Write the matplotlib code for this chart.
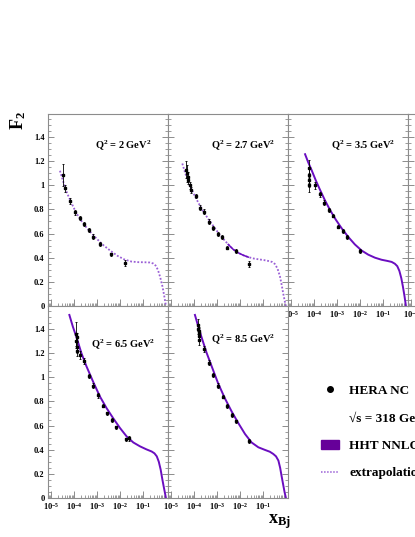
import matplotlib
matplotlib.use('Agg')
import matplotlib.pyplot as plt
from matplotlib.ticker import FixedLocator, MultipleLocator, NullFormatter, FormatStrFormatter, LogFormatterMathtext
from matplotlib.lines import Line2D
from matplotlib.patches import Patch

plt.rcParams['font.family'] = ['Liberation Serif', 'DejaVu Serif']
plt.rcParams['font.weight'] = 'bold'
plt.rcParams['mathtext.fontset'] = 'custom'
plt.rcParams['mathtext.rm'] = 'Liberation Serif:bold'
plt.rcParams['mathtext.it'] = 'Liberation Serif:bold'
plt.rcParams['mathtext.bf'] = 'Liberation Serif:bold'

# Q^2 bins
q2_labels = ['2', '2.7', '3.5', '6.5', '8.5']

# HERA NC data, one list per bin
data_x_1 = [3.4e-5, 4.1e-5, 6.9e-5, 1.15e-4, 1.8e-4, 2.8e-4, 4.4e-4, 6.9e-4, 1.35e-3, 4.1e-3, 1.66e-2]
data_f2_1 = [1.085, 0.975, 0.87, 0.776, 0.729, 0.679, 0.63, 0.574, 0.511, 0.428, 0.359]
data_err_1 = [0.09, 0.03, 0.025, 0.02, 0.02, 0.02, 0.02, 0.02, 0.015, 0.015, 0.025]

data_x_2 = [4.4e-5, 5.0e-5, 5.4e-5, 5.6e-5, 6.8e-5, 7.2e-5, 1.17e-4, 1.8e-4, 2.7e-4, 4.5e-4,
            6.9e-4, 1.07e-3, 1.7e-3, 2.7e-3, 6.8e-3, 2.5e-2]
data_f2_2 = [1.127, 1.10, 1.07, 1.044, 1.0, 0.961, 0.911, 0.815, 0.782, 0.699,
             0.644, 0.594, 0.569, 0.483, 0.456, 0.345]
data_err_2 = [0.07, 0.07, 0.04, 0.03, 0.03, 0.025, 0.02, 0.02, 0.02, 0.02,
              0.015, 0.015, 0.015, 0.015, 0.015, 0.025]

data_x_3 = [5.9e-5, 6.0e-5, 6.2e-5, 6.3e-5, 1.1e-4, 1.8e-4, 2.8e-4, 4.5e-4, 6.9e-4, 1.1e-3,
            1.78e-3, 2.7e-3, 1.02e-2]
data_f2_3 = [1.14, 1.085, 1.044, 1.0, 1.0, 0.925, 0.856, 0.795, 0.748, 0.657,
             0.621, 0.569, 0.458]
data_err_3 = [0.07, 0.07, 0.06, 0.06, 0.03, 0.02, 0.02, 0.02, 0.015, 0.015,
              0.015, 0.015, 0.015]

data_x_4 = [1.2e-4, 1.26e-4, 1.32e-4, 1.35e-4, 1.41e-4, 1.8e-4, 2.7e-4, 4.4e-4, 6.9e-4, 1.1e-3,
            1.78e-3, 2.7e-3, 4.4e-3, 6.8e-3, 1.8e-2, 2.6e-2]
data_f2_4 = [1.36, 1.30, 1.25, 1.33, 1.22, 1.185, 1.135, 1.01, 0.93, 0.85,
             0.765, 0.70, 0.645, 0.585, 0.485, 0.495]
data_err_4 = [0.1, 0.06, 0.05, 0.04, 0.04, 0.03, 0.025, 0.02, 0.02, 0.02,
              0.015, 0.015, 0.015, 0.015, 0.015, 0.02]

data_x_5 = [1.51e-4, 1.55e-4, 1.58e-4, 1.62e-4, 1.66e-4, 1.7e-4, 2.8e-4, 4.5e-4, 6.9e-4, 1.07e-3,
            1.78e-3, 2.7e-3, 4.4e-3, 6.8e-3, 2.5e-2]
data_f2_5 = [1.43, 1.40, 1.37, 1.34, 1.31, 1.38, 1.232, 1.121, 1.019, 0.93,
             0.839, 0.762, 0.685, 0.635, 0.47]
data_err_5 = [0.05, 0.04, 0.04, 0.04, 0.04, 0.04, 0.025, 0.02, 0.02, 0.02,
              0.015, 0.015, 0.015, 0.015, 0.015]

# HHT NNLO predictions
curve_x_1 = [2.45e-5, 3.55e-5, 5.0e-5, 7.9e-5, 1.26e-4, 2.0e-4, 3.16e-4, 5.0e-4, 1.0e-3, 2.0e-3,
             4.0e-3, 7.9e-3, 1.58e-2, 3.16e-2, 6.3e-2, 0.126, 0.20, 0.28, 0.355, 0.447,
             0.56, 0.71, 0.85, 1.0]
curve_f2_1 = [1.12, 1.02, 0.935, 0.85, 0.77, 0.71, 0.66, 0.615, 0.555, 0.50,
              0.455, 0.415, 0.385, 0.368, 0.363, 0.362, 0.36, 0.352, 0.335, 0.30,
              0.24, 0.16, 0.08, 0.0]

curve_x_2 = [3.1e-5, 4.5e-5, 6.8e-5, 1.0e-4, 1.55e-4, 2.5e-4, 4.2e-4, 7.1e-4, 1.15e-3, 2.0e-3,
             3.1e-3, 5.0e-3, 8.5e-3, 1.41e-2, 2.3e-2, 4.0e-2, 6.3e-2, 0.112, 0.17, 0.25,
             0.33, 0.43, 0.55, 0.66, 0.76, 0.89, 1.0]
curve_f2_2 = [1.18, 1.08, 0.99, 0.925, 0.855, 0.785, 0.72, 0.66, 0.605, 0.55,
              0.51, 0.47, 0.44, 0.42, 0.405, 0.393, 0.387, 0.38, 0.373, 0.365,
              0.348, 0.31, 0.245, 0.17, 0.105, 0.04, 0.0]
solid_x_2 = [3.1e-3, 5.0e-3, 8.5e-3, 1.41e-2, 2.3e-2]
solid_f2_2 = [0.51, 0.47, 0.44, 0.42, 0.405]

curve_x_3 = [4.1e-5, 5.6e-5, 7.9e-5, 1.2e-4, 1.8e-4, 3.0e-4, 5.0e-4, 8.9e-4, 1.58e-3, 3.16e-3,
             6.0e-3, 1.17e-2, 2.3e-2, 4.5e-2, 8.7e-2, 0.158, 0.24, 0.33, 0.42, 0.52,
             0.63, 0.74, 0.87, 1.0]
curve_f2_3 = [1.257, 1.19, 1.125, 1.04, 0.965, 0.875, 0.795, 0.715, 0.645, 0.57,
              0.51, 0.46, 0.425, 0.40, 0.383, 0.373, 0.365, 0.35, 0.33, 0.29,
              0.23, 0.16, 0.08, 0.0]

curve_x_4 = [6.3e-5, 8.9e-5, 1.32e-4, 2.1e-4, 3.5e-4, 7.1e-4, 1.35e-3, 2.6e-3, 5.1e-3, 1.0e-2,
             1.95e-2, 3.8e-2, 7.4e-2, 0.141, 0.24, 0.316, 0.40, 0.49, 0.59, 0.69,
             0.79, 0.89, 1.0]
curve_f2_4 = [1.516, 1.42, 1.325, 1.20, 1.09, 0.955, 0.84, 0.745, 0.66, 0.58,
              0.51, 0.46, 0.428, 0.403, 0.385, 0.37, 0.345, 0.30, 0.235, 0.16,
              0.10, 0.05, 0.0]

curve_x_5 = [1.1e-4, 1.51e-4, 2.1e-4, 3.5e-4, 5.9e-4, 1.12e-3, 2.2e-3, 4.4e-3, 8.5e-3, 1.66e-2,
             3.2e-2, 6.3e-2, 0.123, 0.20, 0.28, 0.37, 0.47, 0.56, 0.65, 0.76,
             0.87, 1.0]
curve_f2_5 = [1.516, 1.425, 1.336, 1.205, 1.09, 0.95, 0.826, 0.715, 0.62, 0.53,
              0.46, 0.42, 0.398, 0.383, 0.365, 0.345, 0.31, 0.25, 0.18, 0.11,
              0.05, 0.0]

W, H = 415, 537
SOLID = '#6a0dc0'
DOTTED = '#9a5fd6'
FRAME = '#8c8c8c'


def add_panel(fig, left, top, w=120, h=192):
    ax = fig.add_axes([left / W, 1 - (top + h) / H, w / W, h / H])
    ax.set_xscale('log')
    ax.set_xlim(10 ** -5.13, 10 ** 0.09)
    ax.set_ylim(0, 1.59)
    for s in ax.spines.values():
        s.set_color(FRAME)
        s.set_linewidth(0.8)
    ax.xaxis.set_major_locator(FixedLocator([1e-5, 1e-4, 1e-3, 1e-2, 1e-1]))
    ax.xaxis.set_minor_locator(FixedLocator([m * 10.0 ** e for e in range(-6, 1) for m in range(2, 10)]))
    ax.xaxis.set_major_formatter(LogFormatterMathtext())
    ax.xaxis.set_minor_formatter(NullFormatter())
    ax.yaxis.set_major_locator(MultipleLocator(0.2))
    ax.yaxis.set_minor_locator(MultipleLocator(0.05))
    ax.yaxis.set_major_formatter(FormatStrFormatter('%g'))
    ax.tick_params(which='both', direction='in', color=FRAME, left=True, right=True,
                   bottom=True, top=False, labelsize=6, pad=2.5)
    ax.tick_params(which='major', length=4, width=0.7)
    ax.tick_params(which='minor', length=2, width=0.6)
    ax.tick_params(axis='x', which='major', length=5)
    return ax


fig = plt.figure(figsize=(W / 100, H / 100), dpi=100)

lefts = [48, 168, 288]
panels = [
    (lefts[0], 114, data_x_1, data_f2_1, data_err_1, curve_x_1, curve_f2_1),
    (lefts[1], 114, data_x_2, data_f2_2, data_err_2, curve_x_2, curve_f2_2),
    (lefts[2], 114, data_x_3, data_f2_3, data_err_3, curve_x_3, curve_f2_3),
    (lefts[0], 306, data_x_4, data_f2_4, data_err_4, curve_x_4, curve_f2_4),
    (lefts[1], 306, data_x_5, data_f2_5, data_err_5, curve_x_5, curve_f2_5),
]
show_xlabels = [False, False, True, True, True]
show_ylabels = [True, False, False, True, False]
q2_ypos = [0.84, 0.84, 0.84, 0.80, 0.83]

for i, (l, t, dx, dy, de, cx, cy) in enumerate(panels):
    ax = add_panel(fig, l, t)
    if i < 2:
        ax.plot(cx, cy, color=DOTTED, lw=1.3, ls=(0, (1, 1)))
        if i == 1:
            ax.plot(solid_x_2, solid_f2_2, color=SOLID, lw=1.1)
    else:
        ax.plot(cx, cy, color=SOLID, lw=1.4)
    ax.errorbar(dx, dy, yerr=de, fmt='s', color='black', ms=1.6, elinewidth=0.6,
                capsize=1.0, capthick=0.6)
    ax.text(0.63, q2_ypos[i], 'Q$^2$ = %s GeV$^2$' % q2_labels[i], transform=ax.transAxes,
            ha='center', va='center', fontsize=7.5)
    if not show_xlabels[i]:
        ax.tick_params(axis='x', labelbottom=False)
    if not show_ylabels[i]:
        ax.tick_params(axis='y', labelleft=False)

# fourth column, cut by the page edge
ax4 = add_panel(fig, 408, 114)
ax4.tick_params(axis='y', labelleft=False)
ax4.xaxis.set_major_locator(FixedLocator([1e-5]))

fig.text(18 / W, 1 - 121 / H, 'F$_2$', rotation=90, ha='center', va='center', fontsize=13)
fig.text(279 / W, 1 - 522 / H, 'x$_{\\rm Bj}$', ha='center', va='center', fontsize=13)

handles = [
    Line2D([], [], ls='none', marker='o', color='black', ms=4),
    Line2D([], [], ls='none'),
    Patch(facecolor='#660099', edgecolor='#660099'),
    Line2D([], [], color=DOTTED, lw=1.1, ls=(0, (1, 1))),
]
labels = ['HERA NC', '\u221as = 318 GeV', 'HHT NNLO', 'extrapolation']
fig.legend(handles, labels, loc='center left', bbox_to_anchor=(321 / W, 1 - 432 / H),
           frameon=False, fontsize=9.5, handlelength=1.4, handletextpad=0.75,
           labelspacing=1.15, borderpad=0, borderaxespad=0)

fig.savefig('out.png', dpi=100)
